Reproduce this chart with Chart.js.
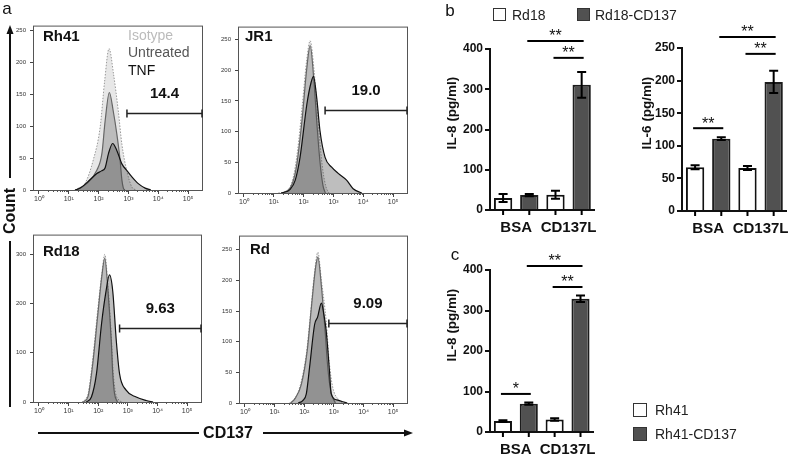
<!DOCTYPE html>
<html>
<head>
<meta charset="utf-8">
<script src="https://cdn.jsdelivr.net/npm/chart.js@4.4.1/dist/chart.umd.min.js"></script>
<style>
  body { margin: 0; background: #fff; }
  #fig { position: relative; width: 800px; height: 459px; overflow: hidden; font-family: "Liberation Sans", Arial, sans-serif; color: #111; }
  #fig canvas { position: absolute; }
  #fig svg { position: absolute; left: 0; top: 0; }
  .t { position: absolute; white-space: nowrap; line-height: 1; }
  .c { transform: translate(-50%, -50%); }
  .l { transform: translateY(-50%); }
  .rot { transform: translate(-50%, -50%) rotate(-90deg); }
  .b { font-weight: bold; }
  .sw { position: absolute; box-sizing: border-box; border: 1.5px solid #333; }
</style>
</head>
<body>
<div id="fig">
  <svg width="800" height="459">
    <g stroke="#111" stroke-width="2">
      <line x1="10" y1="32" x2="10" y2="178"/>
      <line x1="10" y1="241" x2="10" y2="407"/>
      <line x1="38" y1="433" x2="199" y2="433"/>
      <line x1="263" y1="433" x2="406" y2="433"/>
    </g>
    <polygon points="10,25 6.5,34 13.5,34" fill="#111"/>
    <polygon points="413,433 404,429.5 404,436.5" fill="#111"/>
  </svg>

  <div class="t c" style="left:7px;top:8px;font-size:17px">a</div>
  <div class="t c" style="left:450px;top:10px;font-size:17px">b</div>
  <div class="t c" style="left:455px;top:254px;font-size:17px">c</div>

  <div class="t rot b" style="left:10px;top:211px;font-size:16px">Count</div>
  <div class="t c b" style="left:228px;top:433px;font-size:16px">CD137</div>

  <div class="t l b" style="left:43px;top:35px;font-size:15px">Rh41</div>
  <div class="t l b" style="left:245px;top:35px;font-size:15px">JR1</div>
  <div class="t l b" style="left:43px;top:250px;font-size:15px">Rd18</div>
  <div class="t l b" style="left:250px;top:248px;font-size:15px">Rd</div>

  <div class="t l" style="left:128px;top:35px;font-size:14px;color:#bbb">Isotype</div>
  <div class="t l" style="left:128px;top:52px;font-size:14px;color:#555">Untreated</div>
  <div class="t l" style="left:128px;top:70px;font-size:14px;color:#111">TNF</div>

  <div class="t rot b" style="left:452px;top:113px;font-size:13.5px">IL-8 (pg/ml)</div>
  <div class="t rot b" style="left:647px;top:113px;font-size:13.5px">IL-6 (pg/ml)</div>
  <div class="t rot b" style="left:452px;top:325px;font-size:13.5px">IL-8 (pg/ml)</div>

  <div class="sw" style="left:493px;top:8px;width:13px;height:13px;background:#fff"></div>
  <div class="t l" style="left:512px;top:15px;font-size:14px;color:#222">Rd18</div>
  <div class="sw" style="left:577px;top:8px;width:13px;height:13px;background:#515151"></div>
  <div class="t l" style="left:595px;top:15px;font-size:14px;color:#222">Rd18-CD137</div>

  <div class="sw" style="left:633px;top:403px;width:14px;height:14px;background:#fff"></div>
  <div class="t l" style="left:655px;top:410px;font-size:14px;color:#222">Rh41</div>
  <div class="sw" style="left:633px;top:427px;width:14px;height:14px;background:#515151"></div>
  <div class="t l" style="left:655px;top:434px;font-size:14px;color:#222">Rh41-CD137</div>
</div>

<script>
// ---- axis ticks ----
const decadeTicks = [0, 1, 2, 3, 4, 5];
const supDigits = ['\u2070', '\u00b9', '\u00b2', '\u00b3', '\u2074', '\u2075'];
const countTicks250 = [0, 50, 100, 150, 200, 250];
const countTicks300 = [0, 100, 200, 300];
const il8Ticks = [0, 100, 200, 300, 400];
const il6Ticks = [0, 50, 100, 150, 200, 250];

// ---- flow histograms: [log10 CD137, count] ----
const rh41Isotype = [[1.2, 0], [1.32, 3], [1.54, 10], [1.82, 47], [2.05, 98], [2.2, 170], [2.35, 222], [2.5, 182], [2.66, 124], [2.78, 72], [2.94, 31], [3.11, 5], [3.25, 0]];
const rh41Untreated = [[1.25, 0], [1.38, 3], [1.6, 10], [1.94, 31], [2.11, 57], [2.22, 109], [2.36, 153], [2.49, 124], [2.61, 88], [2.72, 47], [2.78, 16], [2.83, 3], [2.88, 0]];
const rh41TNF = [[1.21, 0], [1.38, 3], [1.71, 16], [1.94, 26], [2.1, 30], [2.22, 35], [2.33, 57], [2.47, 73], [2.61, 62], [2.78, 41], [2.94, 31], [3.11, 21], [3.33, 10], [3.56, 3], [3.75, 0]];

const jr1Isotype = [[1.15, 0], [1.45, 4], [1.65, 25], [1.8, 70], [1.95, 140], [2.1, 215], [2.22, 248], [2.35, 200], [2.45, 140], [2.55, 80], [2.65, 35], [2.75, 10], [2.85, 0]];
const jr1Untreated = [[1.25, 0], [1.55, 8], [1.75, 40], [1.95, 120], [2.1, 200], [2.22, 240], [2.35, 180], [2.45, 110], [2.55, 50], [2.65, 12], [2.73, 0]];
const jr1TNF = [[1.25, 0], [1.55, 6], [1.72, 21], [1.88, 58], [2.11, 145], [2.25, 180], [2.33, 190], [2.44, 155], [2.55, 101], [2.72, 58], [2.94, 42], [3.16, 32], [3.44, 21], [3.66, 7], [3.95, 0]];

const rd18Isotype = [[1.45, 0], [1.6, 8], [1.66, 17], [1.82, 90], [1.99, 191], [2.12, 260], [2.22, 300], [2.33, 235], [2.44, 135], [2.5, 65], [2.58, 20], [2.7, 4], [2.8, 0]];
const rd18Untreated = [[1.5, 0], [1.66, 12], [1.82, 80], [1.99, 180], [2.12, 255], [2.22, 292], [2.33, 225], [2.44, 124], [2.49, 57], [2.55, 17], [2.65, 0]];
const rd18TNF = [[1.6, 0], [1.77, 10], [1.94, 57], [2.11, 158], [2.25, 220], [2.38, 258], [2.49, 225], [2.61, 124], [2.72, 57], [2.94, 24], [3.28, 10], [3.62, 3], [3.85, 0]];

const rdIsotype = [[1.5, 0], [1.62, 4], [1.85, 26], [2.07, 80], [2.2, 140], [2.33, 205], [2.46, 246], [2.58, 200], [2.74, 134], [2.85, 64], [2.96, 26], [3.19, 4], [3.3, 0]];
const rdUntreated = [[1.55, 0], [1.7, 8], [1.9, 30], [2.1, 85], [2.25, 160], [2.38, 220], [2.46, 238], [2.58, 190], [2.7, 120], [2.8, 55], [2.9, 18], [3.05, 0]];
const rdTNF = [[1.8, 0], [1.95, 4], [2.07, 15], [2.18, 58], [2.35, 128], [2.45, 140], [2.58, 163], [2.66, 145], [2.74, 118], [2.85, 53], [2.91, 15], [3.1, 5], [3.3, 2], [3.45, 0]];

// gates: start (log10), height (count), % positive
const gateFrom = [2.95, 2.72, 2.72, 2.83];
const gateCount = [121, 135, 151, 131];
const gatePct = ['14.4', '19.0', '9.63', '9.09'];

// ---- cytokines ----
const treatments = ['BSA', 'CD137L'];
const il8Rd18 = [30, 38];
const il8Rd18Err = [10, 10];
const il8Rd18CD137 = [37, 311];
const il8Rd18CD137Err = [3, 32];
const il6Rd18 = [67, 66];
const il6Rd18Err = [3, 3];
const il6Rd18CD137 = [111, 198];
const il6Rd18CD137Err = [2, 17];
const il8Rh41 = [27, 31];
const il8Rh41Err = [2, 3];
const il8Rh41CD137 = [70, 329];
const il8Rh41CD137Err = [3, 8];

// significance: [[category, series], [category, series], level, label]
const il8bSig = [[[0, 1], [1, 1], 420, '**'], [[1, 0], [1, 1], 378, '**']];
const il6Sig = [[[0, 1], [1, 1], 267, '**'], [[1, 0], [1, 1], 241, '**'], [[0, 0], [0, 1], 127, '**']];
const il8cSig = [[[0, 1], [1, 1], 410, '**'], [[1, 0], [1, 1], 358, '**'], [[0, 0], [0, 1], 94, '*']];

// ---- layout ----
const FONT = '"Liberation Sans", Arial, sans-serif';
const H_PAD = { l: 24, t: 6, r: 4, b: 18 };
const B_PAD = { l: 50, t: 30, r: 10, b: 30 };
const fig = document.getElementById('fig');

function makeCanvas(box, pad) {
  const c = document.createElement('canvas');
  c.width = box.r - box.l + pad.l + pad.r;
  c.height = box.b - box.t + pad.t + pad.b;
  c.style.left = (box.l - pad.l) + 'px';
  c.style.top = (box.t - pad.t) + 'px';
  fig.insertBefore(c, fig.firstChild);
  return c;
}

const histDecor = gi => ({
  id: 'histDecor',
  afterDraw(chart) {
    const { ctx, chartArea: a, scales: { x, y } } = chart;
    ctx.save();
    ctx.strokeStyle = '#555';
    ctx.lineWidth = 1;
    ctx.strokeRect(a.left + 0.5, a.top + 0.5, a.width - 1, a.height);
    ctx.beginPath();
    for (let d = 0; d < 5; d++) {
      for (let k = 2; k < 10; k++) {
        const px = Math.round(x.getPixelForValue(d + Math.log10(k))) + 0.5;
        ctx.moveTo(px, a.bottom);
        ctx.lineTo(px, a.bottom + 2);
      }
    }
    ctx.stroke();
    const gx1 = x.getPixelForValue(gateFrom[gi]);
    const gx2 = a.right - 1;
    const gy = Math.round(y.getPixelForValue(gateCount[gi])) + 0.5;
    ctx.strokeStyle = '#222';
    ctx.lineWidth = 1.5;
    ctx.beginPath();
    ctx.moveTo(gx1, gy); ctx.lineTo(gx2, gy);
    ctx.moveTo(gx1, gy - 4); ctx.lineTo(gx1, gy + 4);
    ctx.moveTo(gx2, gy - 4); ctx.lineTo(gx2, gy + 4);
    ctx.stroke();
    ctx.font = 'bold 15px ' + FONT;
    ctx.textAlign = 'center';
    ctx.textBaseline = 'middle';
    ctx.fillStyle = '#111';
    ctx.fillText(gatePct[gi], (gx1 + gx2) / 2, gy - 20);
    ctx.restore();
  }
});

function histChart(box, ymax, yTicks, iso, unt, tnf, gi) {
  const pts = arr => arr.map(p => ({ x: p[0], y: p[1] }));
  new Chart(makeCanvas(box, H_PAD), {
    type: 'line',
    data: {
      datasets: [
        { data: pts(tnf), borderColor: '#111', borderWidth: 1.2, backgroundColor: 'rgba(70,70,70,0.35)', fill: 'origin' },
        { data: pts(unt), borderColor: '#666', borderWidth: 1.2, backgroundColor: 'rgba(110,110,110,0.35)', fill: 'origin' },
        { data: pts(iso), borderColor: '#999', borderWidth: 1, borderDash: [1.5, 1.5], backgroundColor: 'rgba(195,195,195,0.4)', fill: 'origin' }
      ]
    },
    options: {
      responsive: false,
      animation: false,
      layout: { padding: { top: H_PAD.t, right: H_PAD.r } },
      elements: { point: { radius: 0 }, line: { cubicInterpolationMode: 'monotone' } },
      plugins: { legend: { display: false }, tooltip: { enabled: false } },
      scales: {
        x: {
          type: 'linear', min: -0.2, max: 5.5,
          afterBuildTicks: s => { s.ticks = decadeTicks.map(v => ({ value: v })); },
          afterFit: s => { s.height = H_PAD.b; },
          ticks: { callback: v => '10' + supDigits[v], font: { size: 7, family: FONT }, color: '#333', padding: 1, maxRotation: 0 },
          grid: { drawOnChartArea: false, tickLength: 4, color: '#444' },
          border: { display: false }
        },
        y: {
          min: 0, max: ymax,
          afterBuildTicks: s => { s.ticks = yTicks.map(v => ({ value: v })); },
          afterFit: s => { s.width = H_PAD.l; },
          ticks: { font: { size: 6, family: FONT }, color: '#333', padding: 4 },
          grid: { drawOnChartArea: false, tickLength: 3, color: '#444' },
          border: { display: false }
        }
      }
    },
    plugins: [histDecor(gi)]
  });
}

const barDecor = sig => ({
  id: 'barDecor',
  afterDatasetsDraw(chart) {
    const { ctx, scales: { y } } = chart;
    ctx.save();
    ctx.strokeStyle = '#000';
    ctx.lineWidth = 2;
    chart.data.datasets.forEach((ds, di) => {
      chart.getDatasetMeta(di).data.forEach((bar, i) => {
        const top = y.getPixelForValue(ds.data[i] + ds.errors[i]);
        const bot = y.getPixelForValue(ds.data[i] - ds.errors[i]);
        ctx.beginPath();
        ctx.moveTo(bar.x, top); ctx.lineTo(bar.x, bot);
        ctx.moveTo(bar.x - 4.5, top); ctx.lineTo(bar.x + 4.5, top);
        ctx.moveTo(bar.x - 4.5, bot); ctx.lineTo(bar.x + 4.5, bot);
        ctx.stroke();
      });
    });
    ctx.restore();
  },
  afterDraw(chart) {
    const { ctx, chartArea: a, scales: { y } } = chart;
    const barX = (c, s) => chart.getDatasetMeta(s).data[c].x;
    ctx.save();
    ctx.strokeStyle = '#000';
    ctx.lineWidth = 2;
    ctx.beginPath();
    chart.data.datasets.forEach((ds, di) => {
      chart.getDatasetMeta(di).data.forEach(bar => {
        ctx.moveTo(bar.x, a.bottom); ctx.lineTo(bar.x, a.bottom + 5);
      });
    });
    ctx.stroke();
    ctx.font = '16px ' + FONT;
    ctx.textAlign = 'center';
    ctx.textBaseline = 'middle';
    ctx.fillStyle = '#111';
    sig.forEach(([from, to, level, label]) => {
      const x1 = barX(from[0], from[1]) - 2;
      const x2 = barX(to[0], to[1]) + 2;
      const yy = y.getPixelForValue(level);
      ctx.beginPath();
      ctx.moveTo(x1, yy); ctx.lineTo(x2, yy);
      ctx.stroke();
      ctx.fillText(label, (x1 + x2) / 2, yy - 4);
    });
    ctx.restore();
  }
});

function barChart(box, yTicks, a, aErr, b, bErr, sig) {
  new Chart(makeCanvas(box, B_PAD), {
    type: 'bar',
    data: {
      labels: treatments,
      datasets: [
        { data: a, errors: aErr, backgroundColor: '#fff', borderColor: '#111', borderWidth: 2 },
        { data: b, errors: bErr, backgroundColor: '#515151', borderColor: '#1c1c1c', borderWidth: 2 }
      ]
    },
    options: {
      responsive: false,
      animation: false,
      layout: { padding: { top: B_PAD.t, right: B_PAD.r } },
      datasets: { bar: { barPercentage: 0.7, categoryPercentage: 1 } },
      plugins: { legend: { display: false }, tooltip: { enabled: false } },
      scales: {
        x: {
          afterFit: s => { s.height = B_PAD.b; },
          grid: { display: false, drawTicks: false },
          border: { display: true, color: '#111', width: 2 },
          ticks: { font: { size: 15, weight: 'bold', family: FONT }, color: '#111', padding: 9, maxRotation: 0, minRotation: 0, autoSkip: false }
        },
        y: {
          min: 0, max: yTicks[yTicks.length - 1],
          afterBuildTicks: s => { s.ticks = yTicks.map(v => ({ value: v })); },
          afterFit: s => { s.width = B_PAD.l; },
          grid: { drawOnChartArea: false, tickLength: 5, color: '#111', lineWidth: 2 },
          border: { color: '#111', width: 2 },
          ticks: { font: { size: 12, weight: 'bold', family: FONT }, color: '#111', padding: 2 }
        }
      }
    },
    plugins: [barDecor(sig)]
  });
}

histChart({ l: 33, t: 24, r: 203, b: 190 }, 258, countTicks250, rh41Isotype, rh41Untreated, rh41TNF, 0);
histChart({ l: 238, t: 25, r: 408, b: 193 }, 271, countTicks250, jr1Isotype, jr1Untreated, jr1TNF, 1);
histChart({ l: 33, t: 233, r: 202, b: 402 }, 340, countTicks300, rd18Isotype, rd18Untreated, rd18TNF, 2);
histChart({ l: 239, t: 234, r: 408, b: 403 }, 273, countTicks250, rdIsotype, rdUntreated, rdTNF, 3);

barChart({ l: 490, t: 49, r: 598, b: 210 }, il8Ticks, il8Rd18, il8Rd18Err, il8Rd18CD137, il8Rd18CD137Err, il8bSig);
barChart({ l: 682, t: 48, r: 790, b: 211 }, il6Ticks, il6Rd18, il6Rd18Err, il6Rd18CD137, il6Rd18CD137Err, il6Sig);
barChart({ l: 490, t: 270, r: 597, b: 432 }, il8Ticks, il8Rh41, il8Rh41Err, il8Rh41CD137, il8Rh41CD137Err, il8cSig);
</script>
</body>
</html>
